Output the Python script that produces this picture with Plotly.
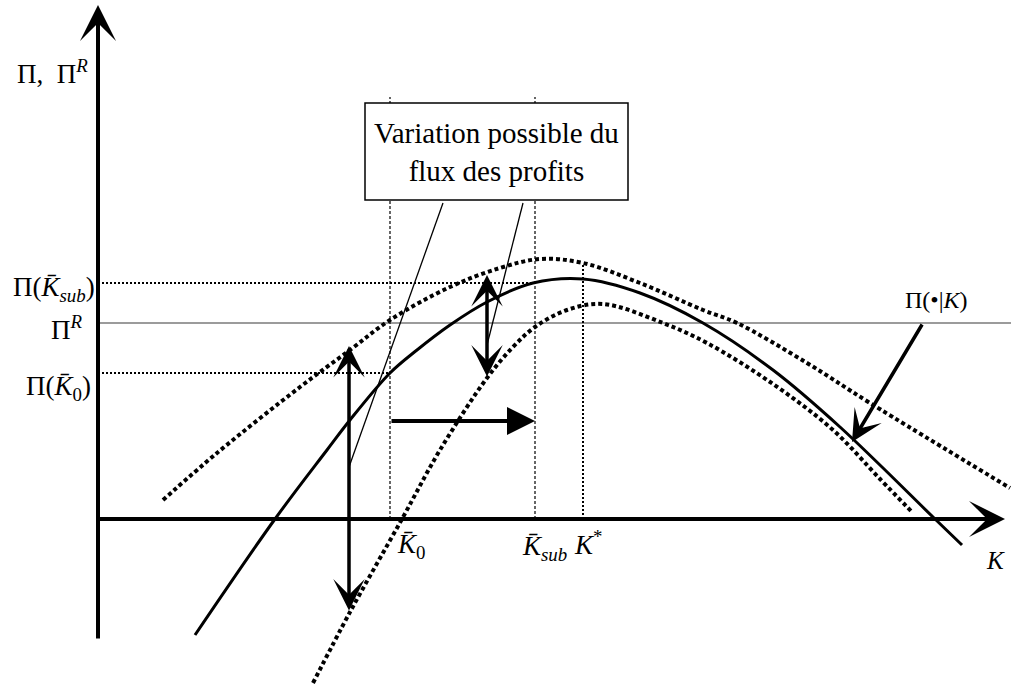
import plotly.graph_objects as go

# schematic values, origin at the crossing of the two axes (K to the right, profit upwards)
k_solid = [97, 177, 229, 252, 292, 319, 352, 389, 435, 485, 542, 605, 675, 742, 837, 864]
pi_solid = [-116, 0, 69, 99, 146, 169, 194, 217, 236, 240, 226, 196, 149, 92, 0, -26]

k_upper = [65, 119, 202, 252, 292, 352, 402, 442, 485, 542, 605, 639, 709, 772, 912]
pi_upper = [19, 66, 132, 169, 199, 232, 251, 260, 256, 236, 209, 196, 156, 116, 31]

k_lower = [215, 252, 304, 342, 389, 415, 437, 469, 505, 565, 609, 675, 735, 782, 815]
pi_lower = [-164, -93, 0, 69, 141, 172, 192, 209, 215, 196, 176, 135, 89, 40, 6]

# reference levels
k_0, k_sub, k_star = 292, 437, 485
pi_sub, pi_r, pi_0 = 236, 196, 146

# arrows: (k_tail, pi_tail, k_head, pi_head)
arrow_left = (251, -93, 251, 173)
arrow_mid = (389, 141, 389, 244)
arrow_shift = (292, 98, 437, 98)
arrow_curve = (825, 196, 754, 77)

# pointer lines from the text box
pointer_1 = ([345, 251], [316, 52])
pointer_2 = ([425, 389], [316, 174])

SERIF = "Liberation Serif"

fig = go.Figure()

# guide lines
fig.add_trace(go.Scatter(x=[0, 913], y=[pi_r, pi_r], mode="lines",
                         line=dict(color="#7a7a7a", width=1.5)))
fig.add_trace(go.Scatter(x=[0, k_sub], y=[pi_sub, pi_sub], mode="lines",
                         line=dict(color="black", width=2, dash="2px,2px")))
fig.add_trace(go.Scatter(x=[0, k_0], y=[pi_0, pi_0], mode="lines",
                         line=dict(color="black", width=2, dash="2px,2px")))
for k in [k_0, k_sub]:
    fig.add_trace(go.Scatter(x=[k, k], y=[0, 422], mode="lines",
                             line=dict(color="black", width=1.2, dash="3px,2px")))
fig.add_trace(go.Scatter(x=[k_star, k_star], y=[0, 256], mode="lines",
                         line=dict(color="black", width=2, dash="2px,2px")))

# curves
fig.add_trace(go.Scatter(x=k_upper, y=pi_upper, mode="lines",
                         line=dict(color="black", width=4, dash="4px,3px", shape="spline")))
fig.add_trace(go.Scatter(x=k_lower, y=pi_lower, mode="lines",
                         line=dict(color="black", width=4, dash="4px,3px", shape="spline")))
fig.add_trace(go.Scatter(x=k_solid, y=pi_solid, mode="lines",
                         line=dict(color="black", width=3, shape="spline")))

for px, py in [pointer_1, pointer_2]:
    fig.add_trace(go.Scatter(x=px, y=py, mode="lines", line=dict(color="black", width=1.3)))

def arrow(a, width, size, head=3, both=False):
    fig.add_annotation(x=a[2], y=a[3], ax=a[0], ay=a[1], xref="x", yref="y",
                       axref="x", ayref="y", text="", showarrow=True,
                       arrowhead=head, startarrowhead=head, arrowwidth=width,
                       arrowsize=size, startarrowsize=size, arrowcolor="black",
                       arrowside="end+start" if both else "end", standoff=0, startstandoff=0)

# axes
arrow((0, -121, 0, 514), 4, 1.5)
arrow((0, 0, 907, 0), 4, 1.5)

arrow(arrow_left, 3.5, 1.5, both=True)
arrow(arrow_mid, 3.5, 1.5, both=True)
arrow(arrow_shift, 4, 1.4, head=2)
arrow(arrow_curve, 3.5, 1.5)

# text box
fig.add_shape(type="rect", x0=267, x1=530, y0=319, y1=416, layer="above",
              line=dict(color="black", width=1.5), fillcolor="white")
fig.add_annotation(x=398.5, y=367.5, text="Variation possible du<br>flux des profits",
                   showarrow=False, font=dict(family=SERIF, size=29, color="black"))

labels = [
    ("Π,  Π<sup><i>R</i></sup>", -8, 447, "right", 27),
    ("Π(<i>K\u0304</i><sub><i>sub</i></sub>)", -1, 230, "right", 27),
    ("Π<sup><i>R</i></sup>", -13, 191, "right", 27),
    ("Π(<i>K\u0304</i><sub>0</sub>)", -5, 131, "right", 27),
    ("<i>K\u0304</i><sub>0</sub>", 297, -27, "left", 27),
    ("<i>K\u0304</i><sub><i>sub</i></sub>", 422, -29, "left", 27),
    ("<i>K</i><sup>*</sup>", 474, -24, "left", 27),
    ("<i>K</i>", 886, -41, "left", 25),
    ("Π(•|<i>K</i>)", 805, 219, "left", 24),
]
for txt, x, y, anchor, size in labels:
    fig.add_annotation(x=x, y=y, text=txt, showarrow=False, xanchor=anchor, yanchor="middle",
                       font=dict(family=SERIF, size=size, color="black"))

fig.update_xaxes(range=[-98, 913], visible=False)
fig.update_yaxes(range=[-166, 519], visible=False)
fig.update_layout(width=1011, height=685, margin=dict(l=0, r=0, t=0, b=0),
                  showlegend=False, plot_bgcolor="white", paper_bgcolor="white")
fig.write_html("out.html", config={"displayModeBar": False},
               post_script="document.body.style.margin = '0';")
